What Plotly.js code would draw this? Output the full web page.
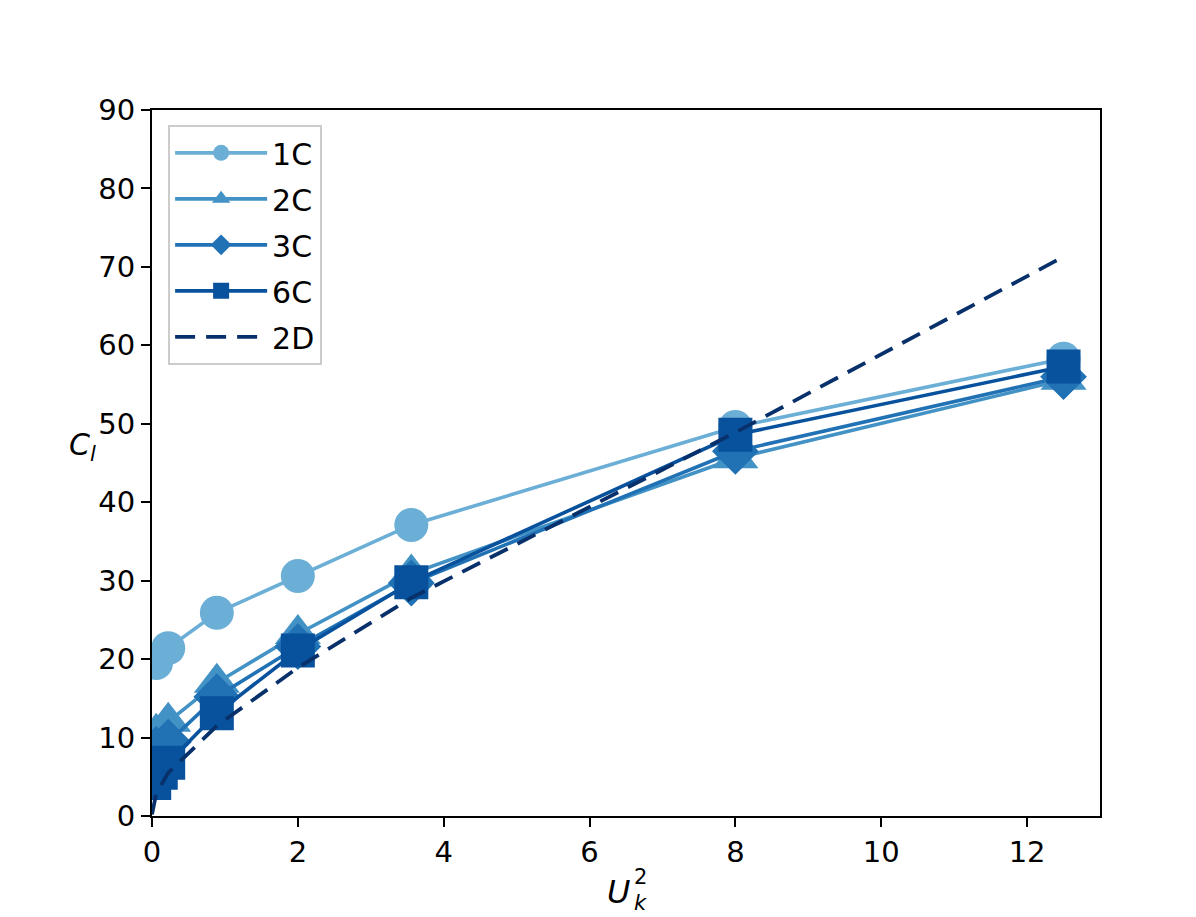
<!DOCTYPE html>
<html>
<head>
<meta charset="utf-8">
<script src="https://cdn.plot.ly/plotly-3.0.1.min.js"></script>
<style>
  body { margin: 0; background: #fff; }
  #chart { width: 1196px; height: 917px; }
</style>
</head>
<body>
<div id="chart"></div>
<script>
// data
var xU = [0.056, 0.222, 0.889, 2.0, 3.556, 8.0, 12.5];
var c1 = [19.5, 21.4, 25.9, 30.6, 37.1, 49.6, 58.3];
var c2 = [10.6, 12.0, 17.0, 23.2, 30.9, 45.6, 55.6];
var c3 = [8.5, 9.4, 15.2, 21.6, 29.7, 46.5, 56.0];

var x6 = [0.03, 0.12, 0.222, 0.889, 2.0, 3.556, 8.0, 12.5];
var c6 = [4.2, 5.5, 6.8, 13.1, 21.1, 29.8, 48.6, 57.3];

var x2D = [0, 0.056, 0.222, 0.889, 2.0, 3.556, 8.0, 12.5];
var d2 = [0.2, 2.8, 5.5, 11.5, 18.9, 27.8, 48.9, 71.3];

var names = ['1C', '2C', '3C', '6C', '2D'];
var colors = ['#6baed6', '#4292c6', '#2171b5', '#08519c', '#08306b'];

function series(i, x, y, symbol, size) {
    return {
        x: x,
        y: y,
        name: names[i],
        legendgroup: names[i],
        mode: 'lines+markers',
        line: {color: colors[i], width: 3.6},
        marker: {symbol: symbol, size: size, color: colors[i], line: {width: 0}}
    };
}

var traces = [
    series(0, xU, c1, 'circle', 34),
    series(1, xU, c2, 'triangle-up', 40),
    series(2, xU, c3, 'diamond', 36),
    series(3, x6, c6, 'square', 34),
    {
        x: x2D,
        y: d2,
        name: names[4],
        legendgroup: names[4],
        mode: 'lines',
        line: {color: colors[4], width: 3.8, dash: '20px,11px'}
    }
];

var tickfont = {family: 'DejaVu Sans', size: 29, color: '#000'};

var layout = {
    width: 1196,
    height: 917,
    margin: {l: 152, r: 96, t: 110, b: 101},
    paper_bgcolor: '#fff',
    plot_bgcolor: '#fff',
    showlegend: true,
    font: {family: 'DejaVu Sans', color: '#000'},
    xaxis: {
        range: [0, 13],
        dtick: 2,
        tick0: 0,
        showgrid: false,
        zeroline: false,
        showline: true,
        mirror: true,
        linecolor: '#000',
        linewidth: 2,
        ticks: 'outside',
        ticklen: 9,
        tickwidth: 2,
        tickcolor: '#000',
        tickfont: tickfont
    },
    yaxis: {
        range: [0, 90],
        dtick: 10,
        tick0: 0,
        showgrid: false,
        zeroline: false,
        showline: true,
        mirror: true,
        linecolor: '#000',
        linewidth: 2,
        ticks: 'outside',
        ticklen: 9,
        tickwidth: 2,
        tickcolor: '#000',
        tickfont: tickfont
    },
    legend: {
        x: 0.017,
        y: 0.979,
        xanchor: 'left',
        yanchor: 'top',
        bgcolor: 'rgba(255,255,255,0.8)',
        bordercolor: '#cccccc',
        borderwidth: 2,
        tracegroupgap: 4,
        itemwidth: 92,
        font: {family: 'DejaVu Sans', size: 30, color: '#000'}
    },
    annotations: [
        // y label C_l
        {xref: 'paper', yref: 'paper', x: -0.073, y: 0.523, xanchor: 'center', yanchor: 'middle',
         showarrow: false, text: '<i>C</i><sub><i>l</i></sub>',
         font: {family: 'DejaVu Sans', size: 30}},
        // x label U_k^2 (stacked sub/superscript)
        {xref: 'paper', yref: 'paper', x: 0.4926, y: -0.107, xanchor: 'center', yanchor: 'middle',
         showarrow: false, text: '<i>U</i>', font: {family: 'DejaVu Sans', size: 32}},
        {xref: 'paper', yref: 'paper', x: 0.515, y: -0.086, xanchor: 'center', yanchor: 'middle',
         showarrow: false, text: '2', font: {family: 'DejaVu Sans', size: 21}},
        {xref: 'paper', yref: 'paper', x: 0.515, y: -0.123, xanchor: 'center', yanchor: 'middle',
         showarrow: false, text: '<i>k</i>', font: {family: 'DejaVu Sans', size: 21}}
    ]
};

Plotly.newPlot('chart', traces, layout, {displayModeBar: false, staticPlot: true});
</script>
</body>
</html>
